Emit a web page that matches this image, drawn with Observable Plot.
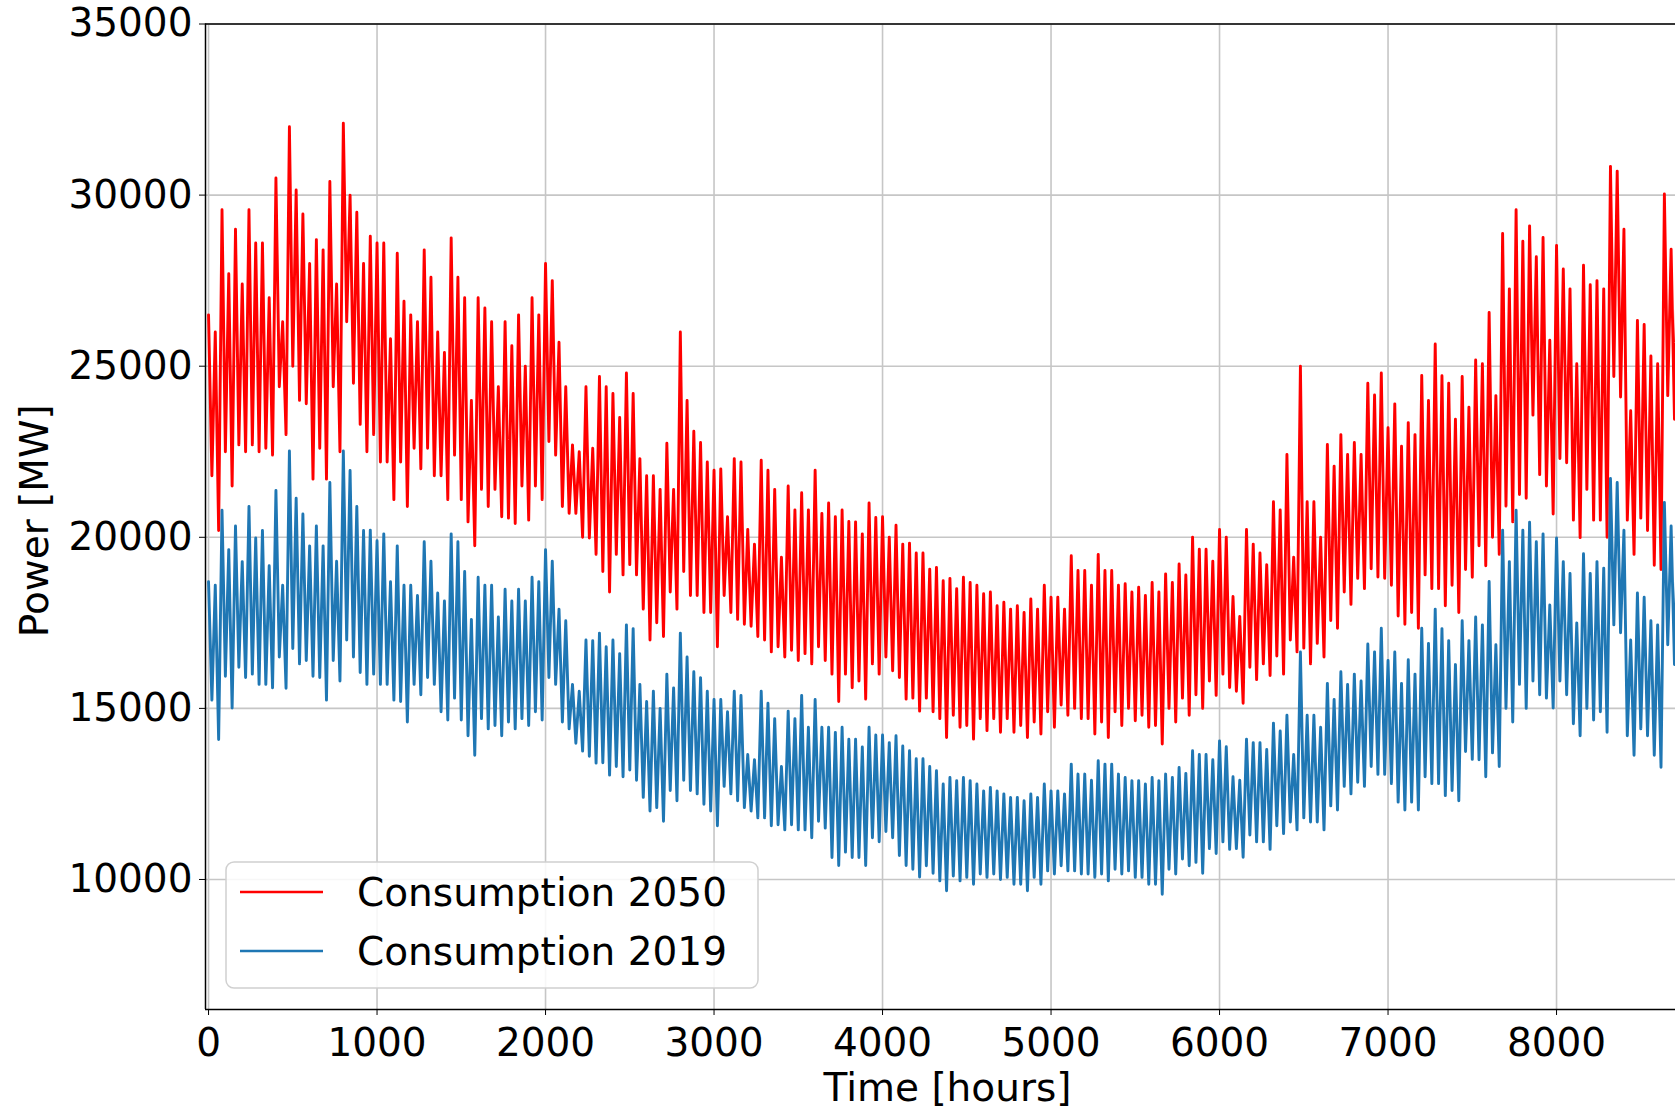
<!DOCTYPE html>
<html>
<head>
<meta charset="utf-8">
<script src="https://cdn.jsdelivr.net/npm/d3@7"></script>
<script src="https://cdn.jsdelivr.net/npm/@observablehq/plot@0.6"></script>
<style>
  html, body { margin: 0; padding: 0; background: #ffffff; }
  #chart { position: relative; width: 1675px; height: 1110px; overflow: hidden; }
</style>
</head>
<body>
<div id="chart"></div>
<script>
// Hour at which each 80-hour reading window starts.
// In each window: highest peak (at start), a second trough (+20 h), a second peak (+40 h), lowest trough (+60 h).
const windowStarts = d3.range(0, 8800, 80);

// ---- Consumption 2050 [MW] ----
const peaks2050 = [
  26500, 29570, 29000, 29570, 28600, 30500, 32000, 29450, 28700, 30400,
  32100, 29500, 28800, 28600, 28300, 26500, 28400, 26000, 28750, 27000,
  27000, 26300, 26300, 26500, 27000, 28000, 25700, 22700, 24400, 24700,
  24200, 24800, 22300, 21800, 22750, 26000, 23100, 22200, 22000, 22300,
  20230, 22250, 21400, 21500, 21300, 21960, 21000, 20800, 20450, 21000,
  20600, 20350, 19830, 19540, 19120, 18800, 18830, 18600, 18400, 18100,
  18000, 18200, 18600, 18250, 19460, 19030, 19500, 19030, 18640, 18540,
  18680, 18930, 19220, 20000, 19650, 20230, 18270, 20230, 19540, 21040,
  22420, 25000, 21040, 22710, 23000, 22770, 24500, 24800, 23900, 23350,
  24730, 25650, 24500, 24700, 25180, 26570, 28880, 29570, 29100, 28760,
  28530, 27260, 27950, 27500, 30840, 29000, 26340, 25300, 30030, 29000
];
const secondPeaks2050 = [
  26000, 27700, 27400, 28600, 27000, 26300, 30150, 28000, 28400, 27400,
  30000, 28000, 28600, 25800, 26900, 26300, 27600, 25400, 27600, 24000,
  26700, 24400, 25600, 25000, 26500, 27500, 24400, 22500, 22600, 24400,
  23500, 24200, 21800, 21400, 21400, 24000, 22770, 21960, 20600, 22200,
  19800, 21960, 19420, 20800, 20800, 20700, 20600, 20460, 20100, 20580,
  20000, 19800, 19540, 19070, 18730, 18500, 18680, 18350, 18000, 17900,
  17800, 17900, 18250, 17900, 19030, 18600, 19030, 18600, 18400, 18300,
  18400, 18680, 18900, 19650, 19300, 20000, 17690, 19800, 19200, 20800,
  19420, 21040, 20000, 22080, 22420, 22420, 24160, 23200, 22660, 23000,
  24000, 24720, 23450, 23800, 25070, 24140, 27260, 28650, 28200, 25760,
  27840, 25070, 27380, 27260, 30700, 23700, 26220, 25070, 28420, 27500
];
const troughs2050 = [
  20200, 21500, 22500, 22500, 22400, 23000, 24000, 21700, 21700, 22500,
  24500, 22500, 22200, 21100, 20900, 22000, 21800, 21100, 21100, 19750,
  20900, 20600, 20400, 20500, 21100, 22400, 20700, 20000, 19500, 18400,
  18900, 18900, 17000, 17100, 17900, 18300, 17800, 16800, 17800, 17460,
  17100, 16650, 16500, 16400, 16300, 16400, 15200, 15600, 15270, 16000,
  16100, 15270, 14920, 14900, 14150, 14450, 14100, 14350, 14300, 14300,
  14150, 14250, 14450, 14800, 14700, 14250, 14150, 14500, 14640, 14450,
  13960, 14600, 14800, 15000, 15380, 15610, 15150, 15840, 15960, 16000,
  16650, 16300, 16500, 17340, 18040, 18500, 18840, 18600, 17460, 17340,
  18500, 18000, 17800, 18830, 19170, 19500, 20450, 21140, 21830, 20680,
  22180, 19990, 20500, 20000, 24100, 19500, 20200, 19060, 23450, 24000
];
const secondTroughs2050 = [
  21800, 22500, 22700, 22700, 22600, 24400, 25000, 23900, 22600, 24400,
  26300, 23300, 23000, 22200, 22200, 22600, 22600, 21800, 22400, 20450,
  21400, 21400, 20560, 21500, 21500, 22800, 20900, 20700, 19980, 19000,
  19500, 19200, 17900, 17500, 18400, 19000, 18300, 17800, 18300, 17600,
  17400, 17000, 16800, 16700, 16600, 16800, 16000, 16000, 15800, 16300,
  16500, 15900, 15300, 15300, 14700, 14800, 14500, 14700, 14700, 14700,
  14500, 14600, 14900, 15100, 15000, 14700, 14600, 14900, 15000, 14800,
  14500, 15000, 15300, 15400, 15800, 16000, 15500, 16200, 16300, 16530,
  17000, 16760, 16900, 17570, 18400, 18800, 19080, 18800, 17700, 17800,
  18900, 18500, 18600, 19060, 19750, 20000, 20910, 21250, 23570, 21500,
  22300, 20500, 21400, 20500, 24700, 20500, 20560, 19180, 24140, 23000
];

// ---- Consumption 2019 [MW] ----
const peaks2019 = [
  18700, 20790, 20330, 20900, 20200, 21370, 22520, 20680, 20330, 21600,
  22520, 20900, 20210, 20100, 19750, 18600, 19870, 18370, 20100, 19000,
  18830, 18600, 18480, 18480, 18830, 19640, 17900, 15700, 17000, 17200,
  17000, 17440, 15700, 15500, 16000, 17200, 16070, 15500, 15260, 15500,
  13650, 15500, 14700, 14920, 15380, 15260, 14450, 14450, 14100, 14450,
  14220, 14200, 13760, 13530, 13180, 12980, 12980, 12790, 12690, 12500,
  12400, 12500, 12790, 12590, 13370, 13080, 13470, 13370, 12980, 12890,
  12980, 13080, 13270, 13760, 13650, 14050, 13000, 14100, 14000, 14570,
  14800, 16650, 14800, 15730, 16070, 16000, 16880, 17340, 16650, 16420,
  17340, 17900, 16980, 17560, 17670, 18710, 20210, 20790, 20440, 20100,
  19980, 18940, 19520, 19290, 21720, 20210, 18370, 17560, 21020, 20500
];
const secondPeaks2019 = [
  18600, 19640, 19290, 19980, 19170, 18600, 21140, 19750, 19750, 19300,
  21950, 20200, 19900, 18700, 18600, 18300, 19300, 18140, 19870, 17600,
  18600, 17670, 18140, 18140, 18700, 19300, 17560, 15500, 16980, 16800,
  16600, 17330, 15200, 15000, 15600, 16500, 15900, 15260, 14900, 15380,
  13500, 15150, 13300, 14700, 14450, 14450, 14300, 14100, 13870, 14220,
  14000, 13900, 13530, 13300, 12790, 12890, 12890, 12590, 12590, 12400,
  12300, 12400, 12590, 12500, 13080, 12900, 13370, 13080, 12890, 12790,
  12890, 12980, 13100, 13650, 13500, 13880, 12900, 14000, 13800, 14340,
  13650, 14800, 14450, 15260, 15700, 15800, 16650, 16400, 15730, 16000,
  16900, 17330, 16280, 16980, 17440, 16860, 19290, 20210, 19870, 18020,
  19290, 17500, 18940, 19100, 21600, 17000, 18250, 17440, 20330, 19500
];
const troughs2019 = [
  14090, 15010, 15900, 15700, 15600, 15590, 16300, 15940, 15240, 15800,
  16500, 15700, 15700, 15240, 14600, 15400, 15700, 14660, 14660, 13630,
  14400, 14200, 14400, 14500, 14660, 15700, 14400, 13750, 13400, 13050,
  13000, 12900, 12000, 11700, 12300, 12600, 12200, 11570, 12500, 12100,
  11800, 11570, 11450, 11450, 11220, 11500, 10410, 10640, 10410, 11100,
  11220, 10410, 10070, 10180, 9670, 9960, 9860, 10060, 10000, 9860,
  9670, 9860, 10160, 10250, 10160, 10060, 9960, 10160, 10060, 9860,
  9570, 10160, 10400, 10180, 10760, 10880, 10650, 11100, 10880, 11340,
  11450, 11680, 11450, 12030, 12500, 12720, 13070, 12800, 12030, 12030,
  12800, 12450, 12300, 13510, 13000, 13300, 14600, 15000, 15400, 15010,
  15400, 14200, 14660, 14300, 17210, 13630, 14200, 13280, 16280, 16800
];
const secondTroughs2019 = [
  15240, 15940, 16200, 16000, 15700, 16500, 16750, 16400, 15900, 16400,
  17000, 16050, 16000, 15700, 15200, 15700, 15900, 14900, 15300, 14200,
  14700, 14500, 14600, 14700, 14900, 15900, 14600, 13980, 13600, 13410,
  13300, 13200, 12400, 12100, 12600, 12900, 12500, 12000, 12720, 12300,
  12000, 11800, 11600, 11600, 11450, 11700, 10640, 10800, 10640, 11220,
  11400, 10700, 10300, 10400, 9960, 10100, 10060, 10160, 10160, 10060,
  9860, 10060, 10250, 10400, 10250, 10160, 10160, 10300, 10250, 10060,
  9860, 10300, 10600, 10500, 10900, 11100, 10900, 11300, 11100, 11570,
  11680, 11800, 11680, 12150, 12720, 12840, 13300, 13070, 12260, 12260,
  13000, 12800, 12600, 13740, 13500, 13700, 15000, 15700, 15800, 15300,
  15800, 14550, 15000, 14900, 17440, 14200, 14400, 13630, 16860, 16000
];

const xTicks = [0, 1000, 2000, 3000, 4000, 5000, 6000, 7000, 8000];
const yTicks = [10000, 15000, 20000, 25000, 30000, 35000];
const seriesNames = ["Consumption 2050", "Consumption 2019"];
const seriesColors = ["#ff0000", "#1f77b4"];

function buildSeries(peaks, secondTroughs, secondPeaks, troughs) {
  return windowStarts.flatMap((t, i) => [
    {t: t,      v: peaks[i]},
    {t: t + 20, v: secondTroughs[i]},
    {t: t + 40, v: secondPeaks[i]},
    {t: t + 60, v: troughs[i]}
  ]);
}
const data2050 = buildSeries(peaks2050, secondTroughs2050, secondPeaks2050, troughs2050);
const data2019 = buildSeries(peaks2019, secondTroughs2019, secondPeaks2019, troughs2019);

const xDomain = [-18, 8706];
const yDomain = [6200, 35000];
const font = "DejaVu Sans";

const chart = Plot.plot({
  width: 1675,
  height: 1110,
  marginLeft: 205,
  marginRight: 0,
  marginTop: 23.5,
  marginBottom: 101,
  style: {fontFamily: font, fontSize: "39px", color: "black", background: "white", overflow: "visible"},
  x: {domain: xDomain, ticks: xTicks, tickSize: 6, tickPadding: 13, tickFormat: "d", label: null},
  y: {domain: yDomain, ticks: yTicks, tickSize: 6, tickPadding: 7, tickFormat: "d", label: null},
  marks: [
    Plot.gridX(xTicks, {stroke: "#c6c6c6", strokeWidth: 1.6, strokeOpacity: 1}),
    Plot.gridY(yTicks, {stroke: "#c6c6c6", strokeWidth: 1.6, strokeOpacity: 1}),
    Plot.line(data2050, {x: "t", y: "v", stroke: seriesColors[0], strokeWidth: 2.9, clip: true}),
    Plot.line(data2019, {x: "t", y: "v", stroke: seriesColors[1], strokeWidth: 2.9, clip: true}),
    Plot.ruleX([xDomain[0]], {stroke: "black", strokeWidth: 1.5}),
    Plot.ruleY(yDomain, {stroke: "black", strokeWidth: 1.5}),
    Plot.text(["Time [hours]"], {frameAnchor: "bottom", text: d => d, dx: 7, dy: 79, fontSize: 39, textAnchor: "middle", lineAnchor: "middle", fill: "black"}),
    Plot.text(["Power [MW]"], {frameAnchor: "left", text: d => d, dx: -170, dy: 4, rotate: -90, fontSize: 39, textAnchor: "middle", lineAnchor: "middle", fill: "black"})
  ]
});

document.getElementById("chart").appendChild(chart);

// Legend inside the plot area (lower left)
const svg = d3.select(chart);
const lg = svg.append("g").attr("font-family", font).attr("font-size", 39).attr("text-anchor", "start");
lg.append("rect")
  .attr("x", 226).attr("y", 862).attr("width", 532).attr("height", 126)
  .attr("rx", 8).attr("ry", 8)
  .attr("fill", "white").attr("fill-opacity", 0.85)
  .attr("stroke", "#d0d0d0").attr("stroke-width", 1.5);
const rowY = [892, 951];
seriesNames.forEach((name, i) => {
  lg.append("line")
    .attr("x1", 240).attr("x2", 323).attr("y1", rowY[i]).attr("y2", rowY[i])
    .attr("stroke", seriesColors[i]).attr("stroke-width", 2.5);
  lg.append("text")
    .attr("x", 357).attr("y", rowY[i]).attr("dy", "0.36em")
    .attr("text-anchor", "start")
    .attr("fill", "black").text(name);
});
</script>
</body>
</html>
